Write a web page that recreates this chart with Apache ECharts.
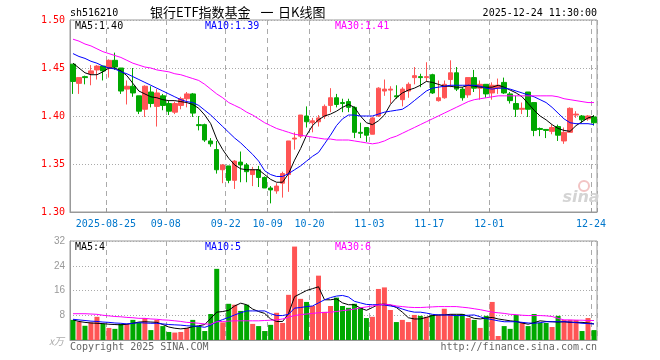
<!DOCTYPE html>
<html><head><meta charset="utf-8">
<script src="https://cdn.jsdelivr.net/npm/echarts@6/dist/echarts.min.js"></script>
<style>html,body{margin:0;padding:0;background:#fff}#c{width:660px;height:360px}</style>
</head><body><div id="c"></div>
<script>
const dates = [
"2025-08-15","2025-08-18","2025-08-19","2025-08-20","2025-08-21","2025-08-22","2025-08-25","2025-08-26","2025-08-27","2025-08-28",
"2025-08-29","2025-09-01","2025-09-02","2025-09-03","2025-09-04","2025-09-05","2025-09-08","2025-09-09","2025-09-10","2025-09-11",
"2025-09-12","2025-09-15","2025-09-16","2025-09-17","2025-09-18","2025-09-19","2025-09-22","2025-09-23","2025-09-24","2025-09-25",
"2025-09-26","2025-09-29","2025-09-30","2025-10-09","2025-10-10","2025-10-13","2025-10-14","2025-10-15","2025-10-16","2025-10-17",
"2025-10-20","2025-10-21","2025-10-22","2025-10-23","2025-10-24","2025-10-27","2025-10-28","2025-10-29","2025-10-30","2025-10-31",
"2025-11-03","2025-11-04","2025-11-05","2025-11-06","2025-11-07","2025-11-10","2025-11-11","2025-11-12","2025-11-13","2025-11-14",
"2025-11-17","2025-11-18","2025-11-19","2025-11-20","2025-11-21","2025-11-24","2025-11-25","2025-11-26","2025-11-27","2025-11-28",
"2025-12-01","2025-12-02","2025-12-03","2025-12-04","2025-12-05","2025-12-08","2025-12-09","2025-12-10","2025-12-11","2025-12-12",
"2025-12-15","2025-12-16","2025-12-17","2025-12-18","2025-12-19","2025-12-22","2025-12-23","2025-12-24"];

const opens = [1.454,1.434,1.441,1.444,1.448,1.452,1.450,1.458,1.450,1.428,
1.431,1.421,1.407,1.425,1.410,1.421,1.413,1.404,1.411,1.418,
1.423,1.391,1.391,1.374,1.365,1.344,1.348,1.333,1.352,1.349,
1.339,1.344,1.336,1.325,1.322,1.330,1.339,1.376,1.379,1.400,
1.393,1.394,1.400,1.411,1.419,1.414,1.415,1.409,1.383,1.388,
1.381,1.400,1.426,1.427,1.421,1.417,1.426,1.440,1.441,1.440,
1.443,1.416,1.419,1.438,1.445,1.428,1.422,1.440,1.429,1.433,
1.424,1.429,1.435,1.423,1.413,1.407,1.425,1.414,1.387,1.386,
1.384,1.389,1.374,1.383,1.401,1.400,1.397,1.399];
const closes = [1.436,1.440,1.440,1.447,1.452,1.447,1.458,1.451,1.426,1.431,
1.424,1.405,1.431,1.413,1.424,1.411,1.405,1.413,1.418,1.423,
1.403,1.390,1.375,1.371,1.344,1.349,1.333,1.353,1.349,1.342,
1.344,1.336,1.325,1.323,1.327,1.340,1.374,1.377,1.401,1.394,
1.395,1.398,1.410,1.419,1.412,1.413,1.409,1.383,1.382,1.380,
1.398,1.429,1.428,1.428,1.420,1.428,1.433,1.442,1.440,1.441,
1.424,1.419,1.433,1.445,1.428,1.419,1.440,1.429,1.433,1.423,
1.432,1.432,1.424,1.416,1.407,1.408,1.407,1.385,1.386,1.385,
1.388,1.380,1.383,1.408,1.402,1.396,1.400,1.393];
const lows = [1.423,1.423,1.433,1.432,1.438,1.437,1.440,1.448,1.423,1.412,
1.420,1.402,1.399,1.409,1.389,1.406,1.401,1.402,1.407,1.409,
1.399,1.385,1.373,1.368,1.340,1.330,1.330,1.324,1.331,1.331,
1.327,1.326,1.325,1.309,1.319,1.315,1.321,1.365,1.377,1.388,
1.383,1.389,1.397,1.404,1.409,1.404,1.404,1.377,1.377,1.373,
1.381,1.399,1.421,1.413,1.418,1.410,1.419,1.433,1.430,1.436,
1.423,1.415,1.418,1.430,1.426,1.416,1.419,1.425,1.417,1.419,
1.417,1.423,1.423,1.413,1.399,1.402,1.399,1.379,1.379,1.377,
1.381,1.374,1.371,1.383,1.398,1.393,1.395,1.390];
const highs = [1.454,1.440,1.442,1.453,1.453,1.452,1.459,1.466,1.450,1.437,
1.450,1.421,1.432,1.431,1.428,1.423,1.416,1.415,1.420,1.425,
1.424,1.400,1.392,1.377,1.374,1.350,1.348,1.354,1.363,1.351,
1.347,1.348,1.337,1.327,1.330,1.342,1.374,1.383,1.401,1.410,
1.398,1.401,1.412,1.429,1.423,1.418,1.418,1.410,1.393,1.388,
1.399,1.430,1.438,1.431,1.432,1.430,1.435,1.451,1.444,1.456,
1.444,1.437,1.437,1.458,1.451,1.430,1.440,1.448,1.437,1.433,
1.435,1.439,1.440,1.425,1.421,1.414,1.425,1.414,1.388,1.386,
1.391,1.391,1.388,1.409,1.405,1.401,1.401,1.401];

const ma5 = [1.455,1.450,1.445,1.443,1.443,1.446,1.450,1.450,1.447,1.442,
1.434,1.426,1.423,1.420,1.419,1.417,1.416,1.416,1.415,1.414,
1.412,1.408,1.401,1.392,1.376,1.365,1.356,1.349,1.345,1.344,
1.344,1.344,1.339,1.334,1.331,1.331,1.340,1.354,1.366,1.380,
1.390,1.396,1.400,1.402,1.405,1.409,1.412,1.409,1.400,1.393,
1.391,1.395,1.401,1.412,1.419,1.424,1.427,1.429,1.432,1.436,
1.435,1.433,1.431,1.431,1.430,1.430,1.432,1.431,1.430,1.430,
1.430,1.432,1.430,1.427,1.424,1.420,1.413,1.406,1.400,1.396,
1.391,1.387,1.385,1.384,1.390,1.394,1.398,1.400];
const ma10 = [1.465,1.462,1.460,1.457,1.455,1.452,1.450,1.449,1.446,1.444,
1.441,1.438,1.435,1.432,1.429,1.426,1.423,1.420,1.417,1.415,
1.414,1.411,1.406,1.401,1.395,1.389,1.383,1.377,1.372,1.366,
1.360,1.353,1.343,1.339,1.337,1.337,1.340,1.344,1.348,1.353,
1.358,1.362,1.371,1.380,1.390,1.397,1.401,1.401,1.400,1.400,
1.400,1.402,1.404,1.405,1.406,1.407,1.411,1.416,1.421,1.426,
1.429,1.430,1.431,1.432,1.432,1.432,1.432,1.432,1.431,1.429,
1.428,1.429,1.429,1.428,1.426,1.424,1.422,1.420,1.417,1.414,
1.409,1.403,1.397,1.393,1.392,1.392,1.392,1.391];
const ma30 = [1.480,1.478,1.475,1.473,1.470,1.467,1.465,1.463,1.461,1.458,
1.455,1.453,1.451,1.450,1.448,1.447,1.446,1.444,1.443,1.441,
1.439,1.437,1.433,1.428,1.423,1.419,1.414,1.411,1.408,1.404,
1.401,1.397,1.393,1.390,1.387,1.385,1.383,1.381,1.380,1.379,
1.378,1.377,1.376,1.376,1.375,1.375,1.375,1.374,1.373,1.372,
1.371,1.372,1.374,1.377,1.379,1.382,1.385,1.388,1.391,1.394,
1.397,1.400,1.403,1.406,1.409,1.412,1.415,1.417,1.418,1.419,
1.420,1.421,1.421,1.421,1.421,1.421,1.421,1.421,1.421,1.421,
1.421,1.420,1.418,1.417,1.416,1.415,1.414,1.414];

const volumes = [6.5,5.9,4.6,5.7,7.5,5.2,3.9,3.6,5.2,5.2,
6.5,5.6,7.1,3.2,6.5,4.5,2.6,2.4,2.6,3.9,
6.5,4.5,2.9,8.4,23.0,5.7,11.7,11.4,9.4,11.4,
5.2,4.5,2.9,4.9,8.8,5.5,14.6,30.2,13.3,12.3,
11.0,20.8,9.1,11.0,13.7,11.0,10.4,11.7,10.4,7.1,
7.5,16.5,17.0,9.7,5.8,6.5,5.8,8.1,7.8,7.5,
8.1,8.1,10.1,8.4,8.1,8.4,7.1,6.5,3.9,7.8,
12.3,1.3,4.5,3.6,8.1,5.8,4.5,8.4,5.5,5.5,
4.2,7.8,6.5,6.5,6.5,2.9,7.1,3.2];
const vma5 = [6.5,6.0,5.7,5.5,5.4,5.3,5.1,5.0,4.9,5.1,
5.4,5.8,5.9,5.8,5.7,5.0,4.2,3.8,3.6,3.8,
4.3,4.6,5.0,7.0,9.0,9.2,9.6,11.0,11.9,11.4,
10.0,9.2,8.6,6.8,6.0,6.0,8.6,14.0,15.0,16.0,
16.6,17.2,13.0,13.0,13.3,12.0,11.4,11.4,10.3,9.6,
10.5,11.5,11.6,11.3,10.5,9.0,7.2,6.8,6.8,7.3,
7.9,8.1,8.1,8.3,8.3,8.3,7.7,7.0,6.8,7.1,
7.3,6.8,6.5,6.2,6.0,5.5,5.1,5.6,6.2,6.0,
5.9,5.8,5.9,5.7,5.7,5.7,5.5,5.2];
const vma10 = [6.7,6.5,6.3,6.1,6.0,5.8,5.7,5.5,5.4,5.2,
5.4,5.6,5.5,5.4,5.4,5.2,5.0,4.9,4.8,4.6,
4.5,4.4,4.1,4.8,5.9,6.6,7.3,8.1,8.8,9.4,
9.4,9.4,9.4,8.5,7.9,7.9,8.3,10.3,10.5,10.8,
11.0,12.0,13.0,13.7,14.2,14.4,13.9,12.5,12.0,11.5,
11.4,11.4,11.3,11.0,10.7,10.0,9.4,9.0,9.0,8.7,
8.3,8.1,8.1,8.0,7.9,7.9,8.0,8.1,7.5,6.9,
6.6,6.2,5.9,5.9,5.9,5.7,5.5,5.4,5.6,5.9,
5.9,5.9,5.9,5.8,5.6,5.4,5.3,5.2];
const vma30 = [8.5,8.5,8.5,8.4,8.3,8.0,7.8,7.6,7.5,7.3,
7.2,7.0,7.0,6.8,6.7,6.5,6.4,6.2,6.0,5.7,
5.6,5.4,5.2,5.1,5.9,6.0,6.1,6.2,6.2,6.2,
6.2,6.2,6.3,6.4,6.5,6.8,7.4,7.9,8.2,8.4,
8.6,8.8,8.9,9.0,9.2,9.5,9.7,10.0,10.4,10.7,
11.0,11.3,11.6,11.4,11.0,10.8,10.6,10.5,10.5,10.6,
10.7,10.8,10.8,10.8,10.8,10.6,10.4,10.1,9.8,9.4,
9.0,8.8,8.6,8.3,8.2,8.0,7.9,7.9,7.9,7.8,
7.6,7.0,6.5,6.5,6.4,6.4,6.3,6.3];

const tickDates = ["2025-08-25","2025-09-08","2025-09-22","2025-10-09","2025-10-20","2025-11-03","2025-11-17","2025-12-01","2025-12-24"];
const tickLabels = ["2025-08-25","09-08","09-22","10-09","10-20","11-03","11-17","12-01","12-24"];
const priceTicks = [1.30, 1.35, 1.40, 1.45, 1.50];
const volTicks = [0, 8, 16, 24, 32];

const RED = '#ff5555', GREEN = '#00a800';
const MONO = 'DejaVu Sans Mono';
const MF = '10px "' + MONO + '"';
const isTick = (i) => tickDates.indexOf(dates[i]) >= 0;

const ohlc = dates.map((d, i) => [opens[i], closes[i], lows[i], highs[i]]);
const volData = volumes.map((v, i) => ({ value: v, itemStyle: { color: closes[i] > opens[i] ? RED : GREEN } }));

const chart = echarts.init(document.getElementById('c'), null, { renderer: 'canvas' });
const dashed = { color: '#aaaaaa', type: [5, 4], width: 1 };
const dotted = { color: '#aaaaaa', type: [1, 2], width: 1 };

function lineSeries(data, color, xi, yi) {
  return { type: 'line', data: data, xAxisIndex: xi, yAxisIndex: yi, symbol: 'none', silent: true,
    lineStyle: { color: color, width: 1 }, z: 5 };
}
function txt(x, y, text, color, font, align, valign) {
  return { type: 'text', x: x, y: y, silent: true, z: 100,
    style: { text: text, fill: color, font: font, align: align || 'left', textAlign: align || 'left',
      verticalAlign: valign || 'middle', textVerticalAlign: valign || 'middle' } };
}

const TF = '13px "Noto Sans CJK SC"';
chart.setOption({
  animation: false,
  backgroundColor: '#ffffff',
  grid: [
    { left: 70, right: 63, top: 20, height: 192, show: true, borderColor: '#999999', borderWidth: 1, backgroundColor: 'transparent' },
    { left: 70, right: 63, top: 241, height: 99, show: true, borderColor: '#999999', borderWidth: 1, backgroundColor: 'transparent' }
  ],
  xAxis: [
    { type: 'category', gridIndex: 0, data: dates, boundaryGap: true,
      axisLine: { show: true, lineStyle: { color: '#999999' } },
      axisTick: { show: true, inside: true, length: 4, interval: (i) => isTick(i), lineStyle: { color: '#999999' } },
      axisLabel: { show: true, interval: (i) => isTick(i), formatter: (v) => tickLabels[tickDates.indexOf(v)],
        color: '#0077cc', fontFamily: MONO, fontSize: 10, margin: 7, padding: [0, 6, 0, 0] },
      splitLine: { show: true, interval: (i) => isTick(i), lineStyle: dashed } },
    { type: 'category', gridIndex: 1, data: dates, boundaryGap: true,
      axisLine: { show: true, lineStyle: { color: '#999999' } },
      axisTick: { show: false }, axisLabel: { show: false },
      splitLine: { show: true, interval: (i) => isTick(i), lineStyle: dashed } }
  ],
  yAxis: [
    { type: 'value', gridIndex: 0, min: priceTicks[0], max: priceTicks[priceTicks.length - 1], interval: 0.05,
      axisLine: { show: true, lineStyle: { color: '#999999' } }, axisTick: { show: false },
      axisLabel: { color: '#ff0000', fontFamily: MONO, fontSize: 10, margin: 5, formatter: (v) => v.toFixed(2) },
      splitLine: { show: true, lineStyle: dotted } },
    { type: 'value', gridIndex: 1, min: volTicks[0], max: volTicks[volTicks.length - 1], interval: 8,
      axisLine: { show: true, lineStyle: { color: '#999999' } }, axisTick: { show: false },
      axisLabel: { color: '#999999', fontFamily: 'Liberation Sans', fontSize: 10, margin: 5, formatter: (v) => v === 0 ? '' : String(v) },
      splitLine: { show: true, lineStyle: dotted } }
  ],
  series: [
    { type: 'candlestick', xAxisIndex: 0, yAxisIndex: 0, data: ohlc, barWidth: 5, silent: true,
      itemStyle: { color: RED, color0: GREEN, borderColor: RED, borderColor0: GREEN, borderWidth: 1 } },
    lineSeries(ma5, '#000000', 0, 0),
    lineSeries(ma10, '#0000ff', 0, 0),
    lineSeries(ma30, '#ff00ff', 0, 0),
    { type: 'bar', xAxisIndex: 1, yAxisIndex: 1, data: volData, barWidth: 5, silent: true },
    lineSeries(vma5, '#000000', 1, 1),
    lineSeries(vma10, '#0000ff', 1, 1),
    lineSeries(vma30, '#ff00ff', 1, 1)
  ],
  graphic: [
    txt(70, 13, 'sh516210', '#000000', MF),
    txt(150, 12, '银行ETF指数基金', '#000000', TF),
    txt(267, 12, '一', '#000000', TF, 'center'),
    txt(278, 12, '日K线图', '#000000', TF),
    txt(597, 13, '2025-12-24 11:30:00', '#000000', MF, 'right'),
    txt(75, 26, 'MA5:1.40', '#000000', MF),
    txt(205, 26, 'MA10:1.39', '#0000ff', MF),
    txt(335, 26, 'MA30:1.41', '#ff00ff', MF),
    txt(75, 247, 'MA5:4', '#000000', MF),
    txt(205, 247, 'MA10:5', '#0000ff', MF),
    txt(335, 247, 'MA30:6', '#ff00ff', MF),
    txt(64, 341, 'x万', '#aaaaaa', 'italic 10px "Noto Sans CJK SC"', 'right'),
    txt(70, 347, 'Copyright 2025 SINA.COM', '#666666', MF),
    txt(597, 347, 'http://finance.sina.com.cn', '#666666', MF, 'right'),
    { type: 'circle', shape: { cx: 584, cy: 186, r: 5 }, silent: true, z: 1,
      style: { fill: 'none', stroke: '#f2c4c4', lineWidth: 2 } },
    txt(581, 198, 'sina', '#d4d4d4', 'italic bold 16px "DejaVu Sans"', 'center')
  ]
});
</script>
</body></html>
